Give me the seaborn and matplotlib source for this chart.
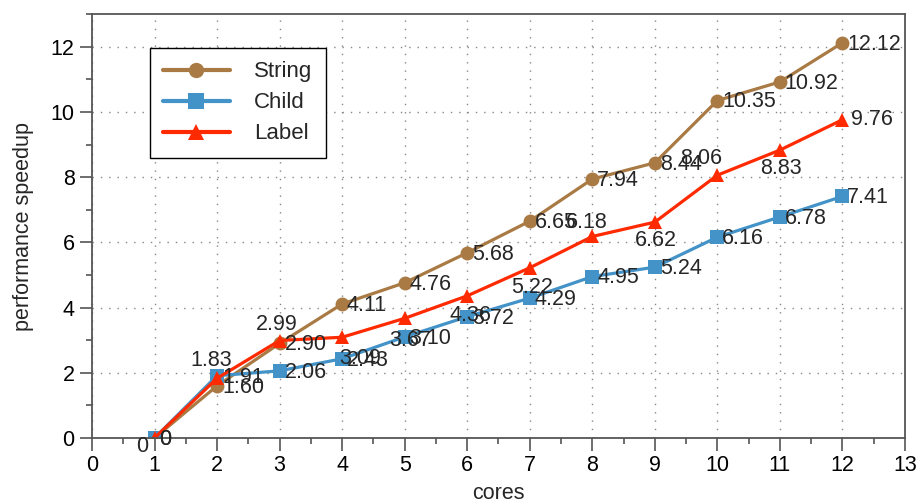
import pandas as pd
import seaborn as sns
import matplotlib.pyplot as plt
from matplotlib.ticker import MultipleLocator

# Data
cores = [1, 2, 3, 4, 5, 6, 7, 8, 9, 10, 11, 12]
string_speedup = [0, 1.60, 2.90, 4.11, 4.76, 5.68, 6.65, 7.94, 8.44, 10.35, 10.92, 12.12]
child_speedup = [0, 1.91, 2.06, 2.43, 3.10, 3.72, 4.29, 4.95, 5.24, 6.16, 6.78, 7.41]
label_speedup = [0, 1.83, 2.99, 3.09, 3.67, 4.36, 5.22, 6.18, 6.62, 8.06, 8.83, 9.76]
series_names = ["String", "Child", "Label"]

colors = {"String": "#A97A44", "Child": "#4393C8", "Label": "#FF2A00"}
markers = {"String": "o", "Child": "s", "Label": "^"}

# long-form frame for seaborn
df = pd.concat([
    pd.DataFrame({"cores": cores, "speedup": vals, "series": name})
    for name, vals in zip(series_names, [string_speedup, child_speedup, label_speedup])
], ignore_index=True)

sns.set_style("ticks")
plt.rcParams['font.family'] = ['Liberation Sans', 'DejaVu Sans']

fig = plt.figure(figsize=(9.16, 5.03), dpi=100)
ax = fig.add_axes([0.1004, 0.1292, 0.8876, 0.8428])

sns.lineplot(data=df, x="cores", y="speedup", hue="series", style="series",
             hue_order=series_names, style_order=series_names,
             palette=colors, markers=markers, dashes=False,
             linewidth=2.3, markersize=10, markeredgewidth=0, ax=ax)

def fmt(v):
    return "0" if v == 0 else f"{v:.2f}"

# String and Child labels sit to the right of the marker
for vals in [string_speedup, child_speedup]:
    for x, v in zip(cores, vals):
        ax.annotate(fmt(v), (x, v), xytext=(3.5, -1), textcoords="offset points",
                    ha="left", va="center", fontsize=15.5)

# Label labels jump above / below (offsets in points)
label_offsets = [(-9, -6), (-4, 13), (-2, 11.5), (13, -15), (4, -16), (2, -14),
                 (1.5, -14), (-4, 10), (1, -13), (-12, 12), (1, -13), (21, 0)]
for x, v, off in zip(cores, label_speedup, label_offsets):
    ax.annotate(fmt(v), (x, v), xytext=off, textcoords="offset points",
                ha="center", va="center", fontsize=15.5)

ax.set_xlim(0, 13)
ax.set_ylim(0, 13)
ax.xaxis.set_major_locator(MultipleLocator(1))
ax.xaxis.set_minor_locator(MultipleLocator(0.5))
ax.yaxis.set_major_locator(MultipleLocator(2))
ax.yaxis.set_minor_locator(MultipleLocator(1))
ax.tick_params(which="major", direction="out", length=9, width=1.2, colors="#555555",
               labelcolor="black", labelsize=15.5)
ax.tick_params(which="minor", direction="out", length=4.5, width=1.2, colors="#555555")
ax.grid(True, which="major", color="#888888", linestyle=(0, (1, 5)), linewidth=1)
for s in ax.spines.values():
    s.set_color("#555555")
    s.set_linewidth(1.3)

ax.set_xlabel("cores", fontsize=15.5, labelpad=5)
ax.set_ylabel("performance speedup", fontsize=15.5, labelpad=12)

handles, labels = ax.get_legend_handles_labels()
leg = ax.legend(handles, labels, loc="upper left", bbox_to_anchor=(0.071, 0.92),
                fontsize=16, handlelength=3.0, handletextpad=1.1, labelspacing=0.45,
                borderpad=0.6, borderaxespad=0, fancybox=False, framealpha=1)
leg.get_frame().set_edgecolor("black")
leg.get_frame().set_linewidth(1.0)
for h in leg.get_lines():
    h.set_linewidth(3)
    h.set_markersize(11)

fig.savefig("out.png", dpi=100)
